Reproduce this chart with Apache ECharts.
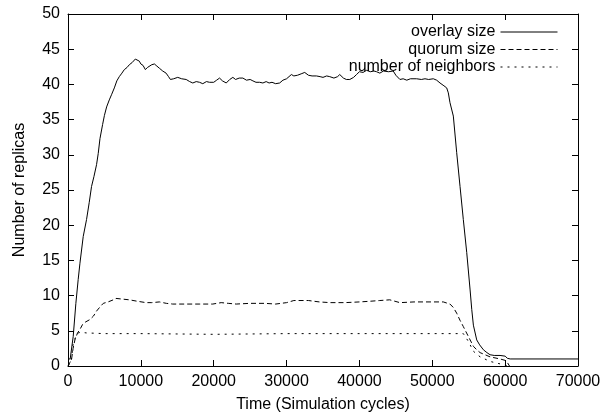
<!DOCTYPE html>
<html>
<head>
<meta charset="utf-8">
<script src="https://cdn.jsdelivr.net/npm/echarts@6/dist/echarts.min.js"></script>
<style>
html,body{margin:0;padding:0;background:#fff;}
#chart{width:601px;height:420px;}
</style>
</head>
<body>
<div id="chart"></div>
<script>
var seriesNames = ['overlay size', 'quorum size', 'number of neighbors'];
var xTicks = [0, 10000, 20000, 30000, 40000, 50000, 60000, 70000];
var yTicks = [0, 5, 10, 15, 20, 25, 30, 35, 40, 45, 50];

var overlaySize = [
[0,1.0],[300,1.0],[500,0.9],[715,4.2],[1080,8.9],[1400,12.3],[1640,14.6],[2090,18.4],
[2545,20.8],[2910,23.2],[3230,25.5],[3560,26.9],[3920,28.6],[4150,30.2],[4390,32.3],
[4750,34.3],[5000,35.6],[5300,36.8],[5670,37.8],[6000,38.6],[6360,39.5],[6700,40.5],
[7040,41.1],[7400,41.6],[7730,42.1],[8100,42.4],[8420,42.8],[8800,43.1],[9000,43.3],
[9240,43.6],[9500,43.4],[9790,43.3],[10000,42.9],[10300,42.7],[10620,42.1],[10900,42.4],
[11170,42.6],[11500,42.8],[11860,42.9],[12200,42.6],[12540,42.3],[13000,41.9],[13460,41.6],
[13800,41.1],[14060,40.7],[14500,40.8],[15060,41.0],[15600,40.8],[16220,40.7],[16700,40.4],
[17130,40.2],[17600,40.4],[18050,40.3],[18500,40.1],[19000,40.4],[19420,40.3],[20000,40.3],
[20400,40.6],[20800,40.9],[21200,40.5],[21720,40.2],[22200,40.7],[22630,41.0],[23000,40.7],
[23500,40.9],[24000,40.9],[24500,40.6],[25000,40.7],[25380,40.5],[25800,40.3],[26300,40.3],
[26750,40.2],[27200,40.4],[27600,40.2],[28000,40.3],[28500,40.1],[29050,40.2],[29500,40.6],
[30000,40.8],[30660,41.4],[31000,41.2],[31500,41.3],[32000,41.5],[32490,41.7],[33000,41.3],
[33500,41.2],[34100,41.2],[34600,41.1],[35000,41.0],[35500,41.2],[35930,41.1],[36500,40.9],
[37000,41.1],[37300,41.4],[37800,40.9],[38200,40.7],[38680,40.7],[39200,41.0],[39600,41.4],
[40000,41.8],[40500,41.7],[40980,42.0],[41500,41.8],[42000,41.9],[42350,41.8],[42800,41.6],
[43300,41.9],[44000,41.8],[44640,41.9],[45000,41.3],[45560,40.7],[46000,40.8],[46500,40.6],
[47000,40.8],[47850,40.8],[48500,40.7],[49000,40.8],[49500,40.7],[50140,40.8],[50600,40.6],
[51060,40.2],[51600,39.8],[51980,39.5],[52200,38.8],[52430,37.4],[52890,35.5],[53350,30.3],
[53810,25.5],[54260,20.8],[54730,16.1],[55190,10.8],[55420,8.0],[55640,5.8],[56100,3.7],
[56500,3.0],[57020,2.3],[57500,1.9],[57930,1.6],[58500,1.5],[59300,1.5],[60000,1.4],
[60300,1.1],[60690,1.0],[70000,1.0]
];

var quorumSize = [
[0,0],[260,0.5],[480,0.9],[700,2.5],[950,3.7],[1310,4.7],[1640,5.2],[2000,5.9],[2320,6.2],
[3010,6.6],[3500,7.1],[3920,7.8],[4400,8.4],[4840,8.9],[5500,9.1],[6220,9.4],[6590,9.6],
[7500,9.5],[8420,9.4],[9500,9.2],[10720,9.0],[11500,9.0],[12540,9.1],[13500,8.9],[14370,8.8],
[16000,8.8],[18000,8.8],[19870,8.8],[21030,9.0],[22000,8.9],[23090,8.8],[25000,8.9],[27000,8.9],
[28500,8.8],[30000,9.0],[31000,9.3],[33000,9.3],[34500,9.1],[36000,9.0],[38000,9.0],[40000,9.1],
[41500,9.2],[42790,9.3],[44160,9.4],[45560,9.0],[47500,9.1],[49690,9.1],[51510,9.1],[52430,8.8],
[52900,8.3],[53350,7.5],[53800,6.5],[54260,5.6],[54950,4.2],[55640,2.8],[56100,2.3],[56560,1.9],
[57930,1.3],[59300,1.0],[60000,0.8],[60300,0.5],[60600,0]
];

var neighbors = [
[0,0],[260,0.3],[480,1.0],[715,3.3],[1080,4.2],[1400,4.7],[1770,4.8],[2500,4.7],[5000,4.6],
[10000,4.6],[20000,4.5],[30000,4.6],[40000,4.6],[50000,4.6],[54260,4.6],[54950,3.5],
[55640,2.1],[56560,1.3],[57930,0.65],[59300,0.3],[60000,0.1],[60300,0]
];

var FONT = '"Liberation Sans", Arial, Helvetica, sans-serif';
var black = '#000';

function baseAxis(extra) {
  var a = {
    type: 'value',
    axisLine: { show: true, onZero: false, lineStyle: { color: black, width: 1 } },
    axisTick: { show: true, inside: true, length: 6, lineStyle: { color: black, width: 1 } },
    splitLine: { show: false },
    axisLabel: { show: true, color: black, fontSize: 16, fontFamily: FONT, margin: 8,
      formatter: function (v) { return String(v); } }
  };
  for (var k in extra) a[k] = extra[k];
  return a;
}

var chart = echarts.init(document.getElementById('chart'), null, { renderer: 'canvas' });
chart.setOption({
  animation: false,
  backgroundColor: '#fff',
  grid: { left: 68, right: 23, top: 14, bottom: 54, containLabel: false, outerBoundsMode: 'none' },
  legend: {
    orient: 'vertical',
    right: 43,
    top: 24,
    padding: 0,
    align: 'right',
    itemWidth: 57,
    itemHeight: 14,
    itemGap: 1.5,
    selectedMode: false,
    itemStyle: { opacity: 0 },
    lineStyle: { width: 1, color: black },
    textStyle: { fontSize: 16, fontFamily: FONT, color: black, lineHeight: 15 },
    data: seriesNames
  },
  xAxis: [
    baseAxis({ min: xTicks[0], max: xTicks[xTicks.length - 1], interval: xTicks[1] - xTicks[0], position: 'bottom',
      name: 'Time (Simulation cycles)', nameLocation: 'middle', nameGap: 31,
      nameTextStyle: { fontSize: 16, fontFamily: FONT, color: black } }),
    baseAxis({ min: xTicks[0], max: xTicks[xTicks.length - 1], interval: xTicks[1] - xTicks[0], position: 'top',
      axisLabel: { show: false } })
  ],
  yAxis: [
    baseAxis({ min: yTicks[0], max: yTicks[yTicks.length - 1], interval: yTicks[1] - yTicks[0], position: 'left',
      name: 'Number of replicas', nameLocation: 'middle', nameGap: 40,
      nameTextStyle: { fontSize: 16, fontFamily: FONT, color: black } }),
    baseAxis({ min: yTicks[0], max: yTicks[yTicks.length - 1], interval: yTicks[1] - yTicks[0], position: 'right',
      axisLabel: { show: false } })
  ],
  series: [
    { name: seriesNames[0], type: 'line', data: overlaySize, symbol: 'none', xAxisIndex: 0, yAxisIndex: 0,
      lineStyle: { color: black, width: 1, type: 'solid' }, itemStyle: { color: black } },
    { name: seriesNames[1], type: 'line', data: quorumSize, symbol: 'none', xAxisIndex: 0, yAxisIndex: 0,
      lineStyle: { color: black, width: 1, type: [5, 3] }, itemStyle: { color: black } },
    { name: seriesNames[2], type: 'line', data: neighbors, symbol: 'none', xAxisIndex: 0, yAxisIndex: 0,
      lineStyle: { color: black, width: 1, type: [2, 5] }, itemStyle: { color: black } }
  ]
});
</script>
</body>
</html>
